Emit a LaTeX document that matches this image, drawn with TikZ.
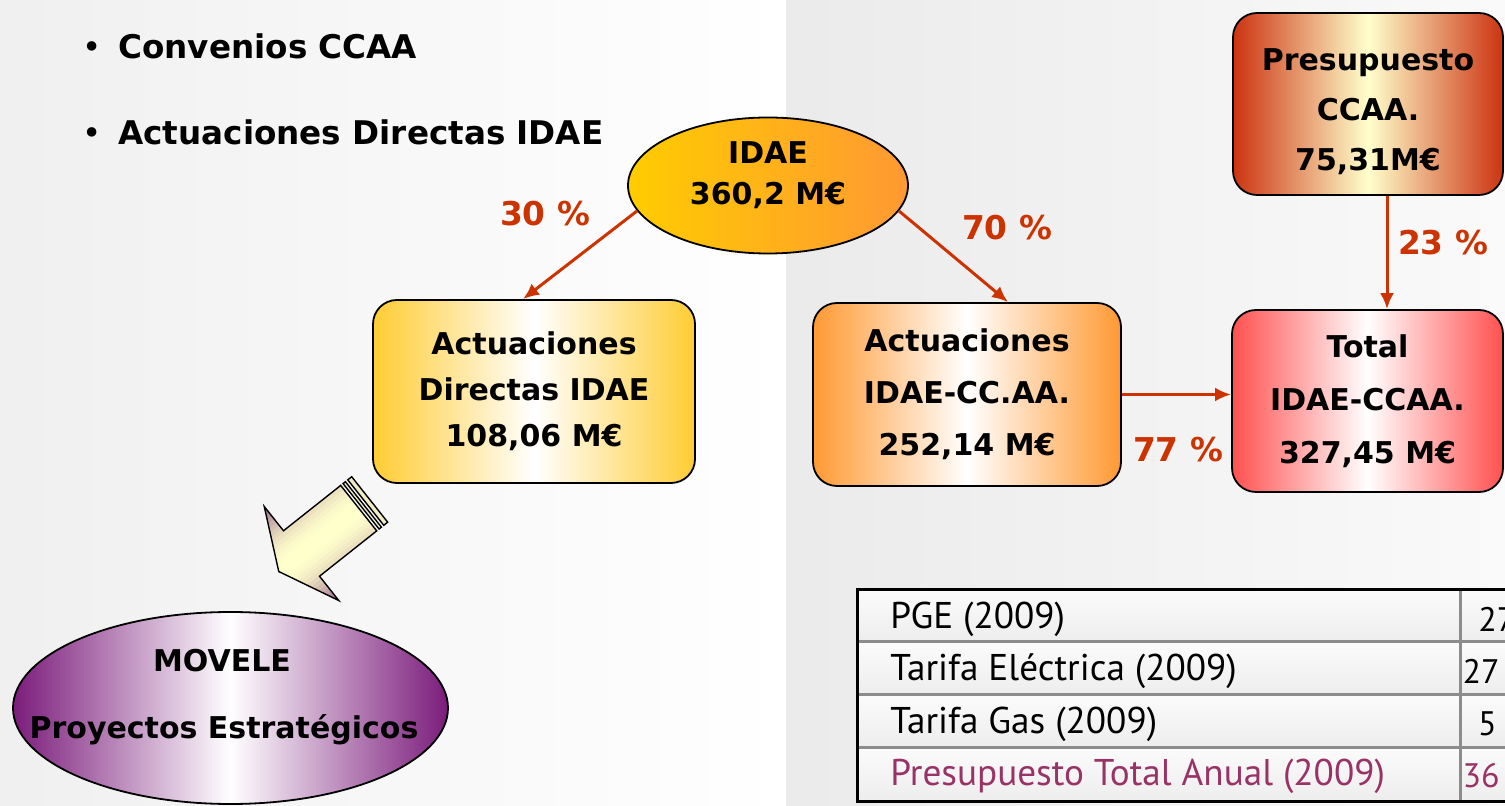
\documentclass[tikz,border=0pt]{standalone}
\usepackage{fontspec}
\setmainfont{DejaVu Sans}
\newfontfamily\tabfont{PT Sans}
\usetikzlibrary{arrows,arrows.meta,positioning,shapes.geometric}

\definecolor{arrowred}{HTML}{CC3300}
\definecolor{idaeyel}{HTML}{FFCC00}
\definecolor{idaeorg}{HTML}{FF9933}
\definecolor{gold}{HTML}{FFCC33}
\definecolor{rosered}{HTML}{FF5050}
\definecolor{brickred}{HTML}{CC3311}
\definecolor{paleyel}{HTML}{FFFFCC}
\definecolor{plum}{HTML}{7B1C7B}
\definecolor{fatpurple}{HTML}{7E3F7E}
\definecolor{tabpurple}{HTML}{993366}
\definecolor{tabline}{HTML}{8C8C8C}

\tikzset{
  box/.style={draw, line width=0.9pt, rounded corners=12pt, inner sep=0pt, align=center},
  edgeshade/.style args={#1 and #2}{left color=#1, right color=#1, middle color=#2},
  boxfont/.style={font=\fontsize{15}{#1}\selectfont\bfseries},
  flow/.style={draw=arrowred, line width=1.5pt, -{Latex[length=8pt,width=7pt]}},
  pct/.style={text=arrowred, anchor=base, inner sep=0pt, font=\fontsize{16.4}{20}\selectfont\bfseries},
  bullettext/.style={anchor=base west, inner sep=0pt, font=\fontsize{16.3}{20}\selectfont\bfseries},
  tabtext/.style={anchor=west, inner sep=0pt, font=\tabfont\fontsize{18.6}{20}\selectfont},
  tabvalue/.style={anchor=east, inner sep=0pt, font=\tabfont\fontsize{17}{20}\selectfont},
}

\begin{document}
\begin{tikzpicture}[x=0.5pt, y=-0.5pt]
  \useasboundingbox (0,0) rectangle (1505,806);

  % background halves
  \shade[left color=gray!12, right color=white] (0,0) rectangle (786,806);
  \shade[left color=gray!16, right color=gray!4] (786,0) rectangle (1505,806);

  % bullets
  \node[bullettext] (conv) at (118,59) {Convenios CCAA};
  \node[bullettext] (actlist) at (118,145) {Actuaciones Directas IDAE};
  \node[anchor=base, inner sep=0pt, font=\fontsize{16.3}{20}\selectfont] at ([xshift=-13pt]conv.base west) {•};
  \node[anchor=base, inner sep=0pt, font=\fontsize{16.3}{20}\selectfont] at ([xshift=-13pt]actlist.base west) {•};

  % IDAE budget
  \node[ellipse, draw, line width=0.9pt, minimum width=140pt, minimum height=68pt, inner sep=0pt,
        left color=idaeyel, right color=idaeorg, align=center, boxfont=20.5] (idae) at (768,185.5)
        {IDAE\\360,2 M€\rule[-12pt]{0pt}{0pt}};

  % boxes
  \node[box, edgeshade=gold and white, boxfont=23, minimum width=161pt, minimum height=91.5pt]
        (actdir) at (534,391.5) {Actuaciones\\Directas IDAE\\108,06 M€};
  \node[box, edgeshade=idaeorg and white, boxfont=26, minimum width=154pt, minimum height=91.5pt]
        (actcc) at (967,394.5) {Actuaciones\\IDAE-CC.AA.\\252,14 M€};
  \node[box, edgeshade=rosered and white, boxfont=26.5, minimum width=135.5pt, minimum height=91pt]
        (total) at (1367.5,401) {Total\\IDAE-CCAA.\\327,45 M€};
  \node[box, edgeshade=brickred and paleyel, boxfont=25, minimum width=135pt, minimum height=91pt]
        (presu) at (1368,104) {\rule{0pt}{18.5pt}Presupuesto\\CCAA.\\75,31M€};

  % flows
  \draw[flow] (idae.191) -- ([xshift=-5.5pt]actdir.north);
  \draw[flow] (idae.-11) -- ([xshift=20.5pt]actcc.north);
  \draw[flow] ([xshift=9.5pt]presu.south) -- ([xshift=9.5pt]presu.south |- total.north);
  \draw[flow] (actcc.east) -- (actcc.east -| total.west);

  \node[pct] (p30) at (545,226) {30 \%};
  \node[pct] (p70) at (1007,240) {70 \%};
  \node[pct] (p23) at (1443,255) {23 \%};
  \node[pct] (p77) at (1178,462) {77 \%};

  % fat arrow down to MOVELE
  \begin{scope}[shift={(301.5,553.5)}, rotate=218.4]
    \begin{scope}
      \clip (29,0) -- (0,60) -- (0,29) -- (-73,29) -- (-73,-29) -- (0,-29) -- (0,-60) -- cycle;
      \foreach \t in {-60,-56,...,56} {
        \pgfmathtruncatemacro\p{85*((abs(\t+2))/60)^2}
        \fill[fatpurple!\p!paleyel] (-75,\t) rectangle (31,\t+4.5);
      }
    \end{scope}
    \draw[line width=0.7pt]
      (29,0) -- (0,60) -- (0,29) -- (-73,29) -- (-73,-29) -- (0,-29) -- (0,-60) -- cycle;
    \draw[line width=0.7pt, fill=paleyel!90!fatpurple] (-76,29) rectangle (-79,-29);
    \draw[line width=0.7pt, fill=paleyel!90!fatpurple] (-82,29) rectangle (-87,-29);
  \end{scope}

  \node[ellipse, draw, line width=0.9pt, minimum width=217.5pt, minimum height=96pt, inner sep=0pt,
        edgeshade=plum and white] (movele) at (230.5,708) {};
  \node[anchor=base, inner sep=0pt, boxfont=20] (movname) at (222,672) {MOVELE};
  \node[anchor=base, inner sep=0pt, boxfont=20] (movproj) at (224,739) {Proyectos Estratégicos};

  % budget table
  \foreach \ya/\yb in {590/642, 642/695, 695/747, 747/801}
    \shade[top color=gray!3, bottom color=gray!14] (857,\ya) rectangle (1505,\yb);
  \foreach \yl in {642, 695, 747}
    \draw[tabline, line width=1.5pt] (857,\yl) -- (1505,\yl);
  \draw[tabline, line width=1.5pt] (1460,590) -- (1460,801);
  \draw[line width=1.5pt] (1505,590) -- (857,590) -- (857,801) -- (1505,801);

  \node[tabtext] (pge) at (890,619) {PGE (2009)};
  \node[tabtext] (tarel) at (890,671) {Tarifa Eléctrica (2009)};
  \node[tabtext] (targas) at (890,724) {Tarifa Gas (2009)};
  \node[tabtext, text=tabpurple] (prestot) at (890,776) {Presupuesto Total Anual (2009)};
  \node[tabvalue, anchor=west] (vpge) at (1478,619) {27};
  \node[tabvalue] (vtarel) at (1500,671) {27};
  \node[tabvalue] (vtargas) at (1497,724) {5};
  \node[tabvalue, text=tabpurple] (vprestot) at (1500,776) {36};
\end{tikzpicture}
\end{document}
